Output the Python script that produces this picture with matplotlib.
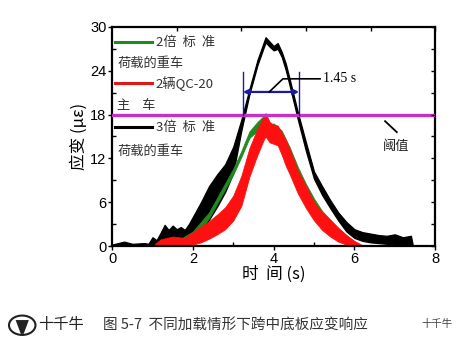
import matplotlib
matplotlib.use("Agg")
import matplotlib.pyplot as plt
from matplotlib.patches import Circle, Polygon
import numpy as np

plt.rcParams['font.family'] = ['Liberation Sans', 'Noto Sans CJK SC', 'DejaVu Sans']

# ---- data (upper / lower envelope of the noisy records) ----
t_black = [0, 0.3, 0.5, 0.8, 0.9, 1.0, 1.1, 1.2, 1.3, 1.4, 1.5, 1.6, 1.7, 1.8, 1.9, 2.0, 2.2, 2.4, 2.6,
           2.8, 3.0, 3.2, 3.4, 3.6, 3.8, 3.9, 4.0, 4.1, 4.2, 4.3, 4.4, 4.6, 4.8, 5.0, 5.2, 5.4, 5.6,
           5.8, 6.0, 6.2, 6.4, 6.6, 6.8, 7.0, 7.2, 7.4, 7.45]
black_hi = [0.2, 0.6, 0.3, 0.4, 0.3, 1.2, 0.8, 1.8, 2.9, 2.2, 2.8, 2.3, 2.6, 2.2, 3.0, 4.0, 6.0, 8.2, 9.8,
            11.2, 13.6, 17.3, 21.5, 25.5, 28.6, 28.0, 27.4, 27.8, 26.6, 25.0, 22.8, 18.3, 14.2, 10.2, 8.2,
            6.3, 4.6, 3.3, 2.3, 1.9, 1.7, 1.5, 1.4, 1.6, 1.2, 1.4, 0]
black_lo = [0, 0, 0, 0, 0, 0, 0.1, 0.2, 0.4, 0.5, 0.5, 0.6, 0.7, 0.8, 0.8, 0.8, 2.0, 3.6, 5.4,
            7.4, 10.0, 15.8, 20.8, 24.8, 27.9, 27.3, 26.8, 27.0, 25.9, 24.1, 21.9, 17.3, 13.0, 9.2, 7.0,
            5.2, 3.5, 2.0, 1.1, 0.7, 0.5, 0.4, 0.3, 0.3, 0.2, 0.2, 0]

t_green = [1.5, 2.0, 2.4, 2.6, 2.8, 3.0, 3.2, 3.4, 3.6, 3.75, 3.9, 4.0, 4.2, 4.4, 4.6, 4.8, 5.0,
           5.2, 5.4, 5.6, 5.8, 6.0]
green_hi = [0.3, 2.0, 4.6, 6.6, 8.6, 10.6, 13.0, 15.7, 17.0, 17.8, 16.5, 16.8, 15.8, 13.5, 10.8, 8.5,
            6.5, 4.8, 3.6, 2.4, 1.5, 0.5]
green_lo = [0, 1.0, 3.8, 5.8, 7.8, 9.8, 12.2, 14.8, 15.8, 16.6, 15.2, 15.4, 14.2, 12.0, 9.2, 7.0,
            5.0, 3.4, 2.3, 1.3, 0.5, 0]

t_red = [1.0, 1.2, 1.5, 1.8, 2.0, 2.2, 2.4, 2.6, 2.8, 3.0, 3.2, 3.4, 3.6, 3.75, 3.8, 3.9, 4.0,
         4.1, 4.2, 4.3, 4.4, 4.6, 4.8, 5.0, 5.2, 5.4, 5.6, 5.8, 6.0, 6.2]
red_hi = [0, 0.9, 1.3, 1.1, 1.9, 2.7, 3.4, 4.3, 5.3, 6.9, 9.6, 13.4, 16.1, 17.6, 18.2, 17.0, 16.6,
          16.5, 15.5, 14.5, 13.2, 10.3, 8.2, 6.0, 4.6, 3.6, 2.5, 1.5, 0.7, 0.1]
red_lo = [0, 0, 0, 0, 0.2, 0.5, 1.0, 1.6, 2.3, 3.5, 5.5, 9.5, 12.5, 14.5, 15.0, 14.2, 14.0,
          13.8, 12.5, 11.0, 9.8, 7.2, 5.2, 3.5, 2.2, 1.3, 0.6, 0.2, 0, 0]

threshold = 18.0
t_cross = [3.24, 4.63]
dur_label = "1.45 s"

x_ticks = [0, 2, 4, 6, 8]
y_ticks = [0, 6, 12, 18, 24, 30]

# ---- figure ----
fig = plt.figure(figsize=(4.73, 3.46), dpi=100)
ax = fig.add_axes([0.237, 0.289, 0.683, 0.633])

ax.fill_between(t_black, black_lo, black_hi, color='black', lw=0.9, edgecolor='black')
ax.fill_between(t_green, green_lo, green_hi, color='#1f8a1f', lw=0.6, edgecolor='#1f8a1f')
ax.fill_between(t_red, red_lo, red_hi, color='#ff1010', lw=0.6, edgecolor='#ff1010')

ax.axhline(threshold, color='#c632c6', lw=2.4, zorder=5)

# duration annotation
blue = '#1a1aa0'
for tc in t_cross:
    ax.plot([tc, tc], [threshold, 23.9], color=blue, lw=1.0, zorder=6)
ax.annotate('', xy=(t_cross[0], 21.1), xytext=(t_cross[1], 21.1),
            arrowprops=dict(arrowstyle='<|-|>', color=blue, lw=1.6,
                            mutation_scale=8, shrinkA=0, shrinkB=0), zorder=6)
ax.plot([3.89, 4.23, 5.15], [21.1, 22.9, 22.9], color='black', lw=1.2, zorder=6)
ax.text(5.22, 22.9, dur_label, fontsize=10, family=['Liberation Serif'], va='center', ha='left')

# threshold label
ax.plot([6.76, 7.05], [17.1, 15.6], color='black', lw=1.3)
ax.text(6.7, 13.6, '阈值', fontsize=9.5, family=['Noto Sans CJK SC'], va='center', ha='left', color='#222222')

# legend (drawn manually)
cjk = ['Noto Sans CJK SC']
lx0, lx1, ltx = 0.08, 1.0, 1.08
ax.plot([lx0, lx1], [28.0, 28.0], color='#1f8a1f', lw=2.2, zorder=7)
ax.text(ltx, 27.9, '2倍  标  准', fontsize=9.5, family=cjk, va='center', color='#333333')
ax.text(lx0 + 0.05, 25.0, '荷载的重车', fontsize=9.5, family=cjk, va='center', color='#333333')
ax.plot([lx0, lx1], [22.3, 22.3], color='#e01818', lw=2.2, zorder=7)
ax.text(ltx, 22.2, '2辆QC-20', fontsize=9.5, family=cjk, va='center', color='#333333')
ax.text(lx0 + 0.05, 19.2, '主    车', fontsize=9.5, family=cjk, va='center', color='#333333')
ax.plot([lx0, lx1], [16.3, 16.3], color='black', lw=2.2, zorder=7)
ax.text(ltx, 16.2, '3倍  标  准', fontsize=9.5, family=cjk, va='center', color='#333333')
ax.text(lx0 + 0.05, 13.0, '荷载的重车', fontsize=9.5, family=cjk, va='center', color='#333333')

# axes styling
ax.set_xlim(0, 8)
ax.set_ylim(0, 30)
ax.set_xticks(x_ticks)
ax.set_yticks(y_ticks)
ax.set_xticks([1, 3, 5, 7], minor=True)
ax.set_yticks([3, 9, 15, 21, 27], minor=True)
ax.tick_params(axis='both', which='major', direction='out', length=3, width=1.0, labelsize=10.5, pad=1)
ax.tick_params(axis='both', which='minor', direction='in', length=3, width=1.0)
for s in ax.spines.values():
    s.set_linewidth(1.6)

# right / top inward ticks
axr = ax.twinx()
axr.set_ylim(0, 30)
axr.set_yticks([0, 3, 6, 9, 12, 15, 18, 21, 24, 27, 30])
axr.tick_params(axis='y', direction='in', length=3, width=1.0, labelright=False)
axt = ax.twiny()
axt.set_xlim(0, 8)
axt.set_xticks([1.6, 3.2, 4.8, 6.4, 8.0])
axt.tick_params(axis='x', direction='in', length=3, width=1.0, labeltop=False)
for a in (axr, axt):
    for s in a.spines.values():
        s.set_visible(False)

ax.set_xlabel('时  间 (s)', fontsize=12, family=['Noto Sans CJK SC', 'DejaVu Sans'], labelpad=0)
ax.set_ylabel('应变 (με)', fontsize=12, family=['Noto Sans CJK SC', 'DejaVu Sans'], labelpad=2)

# caption and watermark
fig.text(0.218, 0.06, '图 5-7  不同加载情形下跨中底板应变响应', fontsize=10.5,
         family=['Noto Sans CJK SC'], color='#333333', va='center', ha='left')
fig.text(0.89, 0.065, '十千牛', fontsize=7.5, family=['Noto Sans CJK SC'], color='#444444',
         va='center', ha='left')
logo = Circle((0.047, 0.06), 0.028, transform=fig.transFigure, facecolor='white',
              edgecolor='#222222', lw=1.5)
fig.add_artist(logo)
head = Polygon([[0.033, 0.075], [0.061, 0.075], [0.050, 0.035], [0.044, 0.035]],
               closed=True, transform=fig.transFigure, facecolor='#222222', edgecolor='none')
fig.add_artist(head)
fig.text(0.081, 0.063, '十千牛', fontsize=11, family=['Noto Sans CJK SC'], color='#222222',
         va='center', ha='left')

fig.savefig('out.png', dpi=100)
